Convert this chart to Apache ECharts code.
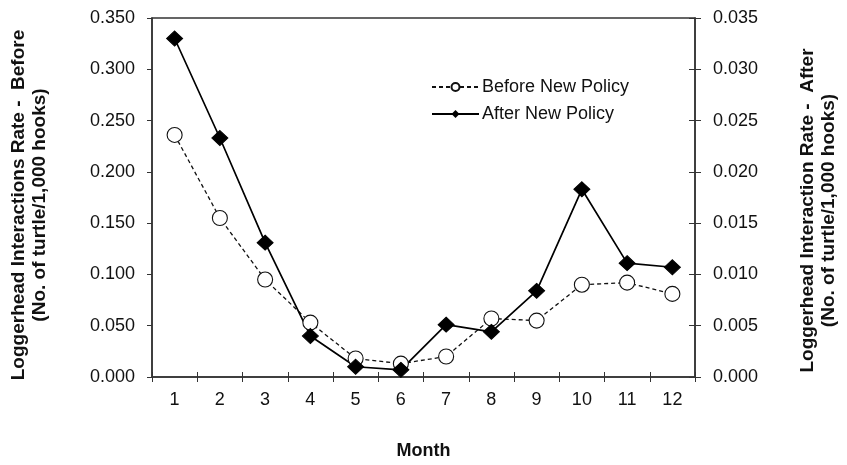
<!DOCTYPE html>
<html><head><meta charset="utf-8">
<script src="https://cdn.jsdelivr.net/npm/echarts@6/dist/echarts.min.js"></script>
<style>html,body{margin:0;padding:0;background:#fff}#c{width:847px;height:465px}</style>
</head><body><div id="c"></div>
<script>
const months = ['1','2','3','4','5','6','7','8','9','10','11','12'];
const beforeRate = [0.236, 0.155, 0.095, 0.053, 0.018, 0.013, 0.020, 0.057, 0.055, 0.090, 0.092, 0.081];
const afterRate = [0.0330, 0.0233, 0.0131, 0.0040, 0.0010, 0.0007, 0.0051, 0.0044, 0.0084, 0.0183, 0.0111, 0.0107];
const leftTicks = {min: 0, max: 0.35, interval: 0.05};
const rightTicks = {min: 0, max: 0.035, interval: 0.005};

const font = 'Liberation Sans, Arial, sans-serif';
const axisColor = '#333';
const axisLine = {show: true, lineStyle: {color: axisColor, width: 1.5}};
const chart = echarts.init(document.getElementById('c'), null, {renderer: 'canvas'});
chart.setOption({
  animation: false,
  backgroundColor: '#fff',
  textStyle: {fontFamily: font},
  grid: {left: 152, right: 141, top: 18, bottom: 83, show: true, borderColor: axisColor, borderWidth: 1.5, backgroundColor: 'transparent'},
  legend: {
    left: 426, top: 73, orient: 'vertical', itemGap: 9, itemWidth: 47, itemHeight: 10,
    textStyle: {fontFamily: font, fontSize: 18, color: '#111', lineHeight: 18, padding: [0, 0, 0, -2]},
    data: ['Before New Policy', 'After New Policy']
  },
  xAxis: [{
    type: 'category', data: months, boundaryGap: true,
    name: 'Month', nameLocation: 'middle', nameGap: 65,
    nameTextStyle: {fontFamily: font, fontSize: 18, fontWeight: 'bold', color: '#111'},
    axisLine: axisLine,
    axisTick: {show: true, length: 5, lineStyle: {color: axisColor}},
    axisLabel: {fontFamily: font, fontSize: 18, color: '#111', margin: 14},
    splitLine: {show: false}
  }, {
    type: 'category', data: months, boundaryGap: true, position: 'bottom',
    axisLine: {show: false},
    axisTick: {show: true, inside: true, length: 5, lineStyle: {color: axisColor}},
    axisLabel: {show: false}, splitLine: {show: false}
  }],
  yAxis: [{
    type: 'value', position: 'left', min: leftTicks.min, max: leftTicks.max, interval: leftTicks.interval,
    name: 'Loggerhead Interactions Rate -  Before\n(No. of turtle/1,000 hooks)',
    nameLocation: 'middle', nameGap: 102, nameRotate: 90,
    nameTextStyle: {fontFamily: font, fontSize: 19, fontWeight: 'bold', color: '#111', lineHeight: 21, padding: [0, 15, 0, 0]},
    axisLine: axisLine,
    axisTick: {show: true, length: 5, lineStyle: {color: axisColor}},
    axisLabel: {fontFamily: font, fontSize: 18, color: '#111', margin: 17, formatter: v => v.toFixed(3)},
    splitLine: {show: false}
  }, {
    type: 'value', position: 'right', min: rightTicks.min, max: rightTicks.max, interval: rightTicks.interval,
    name: 'Loggerhead Interaction Rate -  After\n(No. of turtle/1,000 hooks)',
    nameLocation: 'middle', nameGap: 102, nameRotate: 90,
    nameTextStyle: {fontFamily: font, fontSize: 19, fontWeight: 'bold', color: '#111', lineHeight: 21, padding: [0, 26, 0, 0]},
    axisLine: axisLine,
    axisTick: {show: true, length: 6, lineStyle: {color: axisColor}},
    axisLabel: {fontFamily: font, fontSize: 18, color: '#111', margin: 18, formatter: v => v.toFixed(3)},
    splitLine: {show: false}
  }, {
    type: 'value', position: 'right', min: rightTicks.min, max: rightTicks.max, interval: rightTicks.interval,
    axisLine: {show: false},
    axisTick: {show: true, inside: true, length: 6, lineStyle: {color: axisColor}},
    axisLabel: {show: false}, splitLine: {show: false}
  }],
  series: [{
    name: 'Before New Policy', type: 'line', yAxisIndex: 0, data: beforeRate,
    symbol: 'circle', symbolSize: 15,
    lineStyle: {color: '#111', width: 1.3, type: [4, 3]},
    itemStyle: {color: '#fff', borderColor: '#111', borderWidth: 1.1}
  }, {
    name: 'After New Policy', type: 'line', yAxisIndex: 1, data: afterRate,
    symbol: 'diamond', symbolSize: [16, 15],
    lineStyle: {color: '#000', width: 1.7},
    itemStyle: {color: '#000', borderColor: '#000'}
  }]
});
</script></body></html>
